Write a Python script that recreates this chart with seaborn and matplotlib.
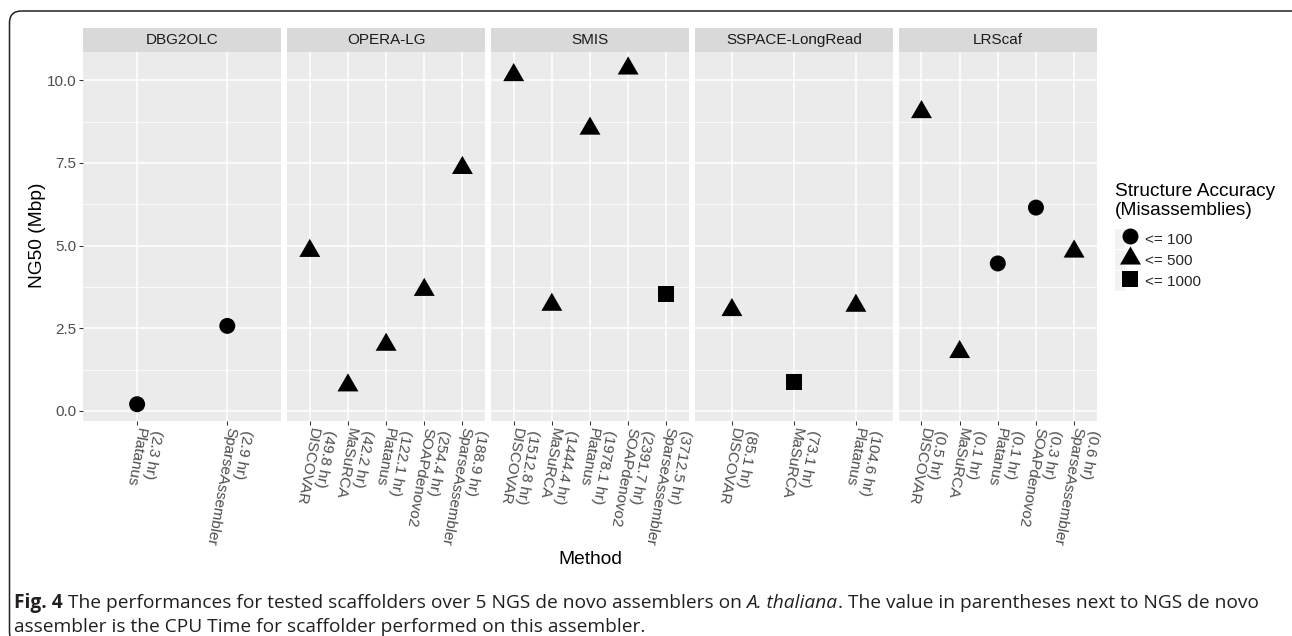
import matplotlib
matplotlib.use("Agg")
import matplotlib.pyplot as plt
import matplotlib.transforms as mtransforms
from matplotlib.patches import Rectangle, FancyBboxPatch, Patch
from matplotlib.lines import Line2D
from matplotlib.legend_handler import HandlerTuple
from matplotlib.ticker import MultipleLocator, FormatStrFormatter
import seaborn as sns
import pandas as pd

# data
scaffolders = ["DBG2OLC", "OPERA-LG", "SMIS", "SSPACE-LongRead", "LRScaf"]

scaffolder = (["DBG2OLC"] * 2 + ["OPERA-LG"] * 5 + ["SMIS"] * 5
              + ["SSPACE-LongRead"] * 3 + ["LRScaf"] * 5)
method = ["Platanus", "SparseAssembler",
          "DISCOVAR", "MaSuRCA", "Platanus", "SOAPdenovo2", "SparseAssembler",
          "DISCOVAR", "MaSuRCA", "Platanus", "SOAPdenovo2", "SparseAssembler",
          "DISCOVAR", "MaSuRCA", "Platanus",
          "DISCOVAR", "MaSuRCA", "Platanus", "SOAPdenovo2", "SparseAssembler"]
cpu_hours = ["2.3", "2.9",
             "49.8", "42.2", "122.1", "254.4", "188.9",
             "1512.8", "1444.4", "1978.1", "2391.7", "3712.5",
             "85.1", "73.1", "104.6",
             "0.5", "0.1", "0.1", "0.3", "0.6"]
ng50 = [0.20, 2.57,
        4.84, 0.77, 2.00, 3.66, 7.35,
        10.16, 3.21, 8.54, 10.36, 3.55,
        3.05, 0.86, 3.18,
        9.04, 1.78, 4.46, 6.15, 4.82]
accuracy = ["<= 100", "<= 100",
            "<= 500", "<= 500", "<= 500", "<= 500", "<= 500",
            "<= 500", "<= 500", "<= 500", "<= 500", "<= 1000",
            "<= 500", "<= 1000", "<= 500",
            "<= 500", "<= 500", "<= 100", "<= 100", "<= 500"]
accuracy_levels = ["<= 100", "<= 500", "<= 1000"]

# ggplot-like triangle (pch 17), centred on its centroid
TRIANGLE = [(0, 1.555), (1.347, -0.778), (-1.347, -0.778)]
markers = {"<= 100": "o", "<= 500": TRIANGLE, "<= 1000": "s"}
msize = {"<= 100": 11.5, "<= 500": 17.4, "<= 1000": 11.5}

PANEL_BG = "#EBEBEB"
STRIP_BG = "#D9D9D9"
TICK_TXT = "#4D4D4D"
FONT = "Liberation Sans"
TICK_FS = 11
TITLE_FS = 13.8

df = pd.DataFrame({"scaffolder": scaffolder, "method": method, "hours": cpu_hours,
                   "ng50": ng50, "accuracy": accuracy})
df["pos"] = df.groupby("scaffolder").cumcount()
df["label"] = "(" + df["hours"] + " hr)\n" + df["method"]

sns.set_theme(style="white")
plt.rcParams["font.family"] = [FONT, "DejaVu Sans"]

W, H = 1292, 636
fig = plt.figure(figsize=(W / 100, H / 100), dpi=100)

left, right, top, bottom = 83, 1097, 51.7, 421
gap = 5.5
pw = (right - left - gap * 4) / 5

span = max(ng50) - min(ng50)
ylo, yhi = min(ng50) - 0.05 * span, max(ng50) + 0.05 * span

for k, name in enumerate(scaffolders):
    x0 = left + k * (pw + gap)
    ax = fig.add_axes([x0 / W, 1 - bottom / H, pw / W, (bottom - top) / H])
    sub = df[df["scaffolder"] == name]
    n = len(sub)

    ax.set_facecolor(PANEL_BG)
    for s in ax.spines.values():
        s.set_visible(False)
    ax.set_axisbelow(True)

    sns.scatterplot(data=sub, x="pos", y="ng50", style="accuracy", size="accuracy",
                    style_order=accuracy_levels, size_order=accuracy_levels,
                    markers=markers, sizes={k2: v ** 2 for k2, v in msize.items()},
                    color="black", linewidth=0, legend=False, ax=ax, zorder=3)

    ax.set_xlim(-0.6, n - 0.4)
    ax.set_ylim(ylo, yhi)
    ax.set_xticks(range(n))
    ax.set_xticklabels([])
    ax.yaxis.set_major_locator(MultipleLocator(2.5))
    ax.yaxis.set_minor_locator(MultipleLocator(1.25))
    ax.yaxis.set_major_formatter(FormatStrFormatter("%.1f"))
    ax.grid(which="major", color="white", linewidth=1.1)
    ax.grid(which="minor", axis="y", color="white", linewidth=0.55)
    ax.tick_params(which="major", length=2.75, width=0.75, color="#333333",
                   labelsize=TICK_FS, labelcolor=TICK_TXT, pad=2, bottom=True, left=(k == 0),
                   labelleft=(k == 0))
    ax.tick_params(which="minor", length=0)
    ax.set_xlabel("")
    ax.set_ylabel("")

    # rotated two-line tick labels
    trans = mtransforms.blended_transform_factory(ax.transData, ax.transAxes) + \
        mtransforms.ScaledTranslation(-3 / 100, -5 / 100, fig.dpi_scale_trans)
    for i, lab in zip(sub["pos"], sub["label"]):
        ax.text(i, 0, lab, transform=trans, rotation=-100, rotation_mode="anchor",
                ha="left", va="bottom", fontsize=TICK_FS, color=TICK_TXT,
                linespacing=1.2, clip_on=False)

    # facet strip
    sh = 23.4 / (bottom - top)
    ax.add_patch(Rectangle((0, 1), 1, sh, transform=ax.transAxes, facecolor=STRIP_BG,
                           edgecolor="none", clip_on=False))
    ax.text(0.5, 1 + sh / 2, name, transform=ax.transAxes, ha="center", va="center",
            fontsize=TICK_FS, color="#1A1A1A")

fig.text(38 / W, 1 - 235 / H, "NG50 (Mbp)", rotation=90, ha="center", va="center",
         fontsize=TITLE_FS, color="black")
fig.text(590 / W, 1 - 560 / H, "Method", ha="center", va="center",
         fontsize=TITLE_FS, color="black")

# legend
fig.text(1115 / W, 1 - 201 / H, "Structure Accuracy\n(Misassemblies)", ha="left",
         va="center", fontsize=TITLE_FS, linespacing=1.15, color="black")
handles = []
for lev in accuracy_levels:
    handles.append((Patch(facecolor="#F2F2F2", edgecolor="none"),
                    Line2D([], [], marker=markers[lev], markersize=msize[lev],
                           linestyle="", color="black", markeredgewidth=0)))
fig.legend(handles, accuracy_levels, loc="upper left",
           bbox_to_anchor=(1115 / W, 1 - 229 / H),
           frameon=False, fontsize=TICK_FS,
           handler_map={tuple: HandlerTuple(ndivide=None)},
           handlelength=1.35, handleheight=1.6, handletextpad=0.6,
           labelspacing=0.1, borderpad=0, borderaxespad=0)

# figure caption and frame
fig.add_artist(FancyBboxPatch((9.5, -8), 1300, 633, boxstyle="round,pad=0,rounding_size=12",
                              transform=mtransforms.IdentityTransform(),
                              facecolor="none", edgecolor="#222222", linewidth=1.1))

cap_font = ["Open Sans", "DejaVu Sans"]
cap_size = 13.75
renderer = fig.canvas.get_renderer()
line1 = [("Fig. 4", "bold", "normal"),
         (" The performances for tested scaffolders over 5 NGS de novo assemblers on ", "normal", "normal"),
         ("A. thaliana", "normal", "italic"),
         (". The value in parentheses next to NGS de novo", "normal", "normal")]
x = 14
for txt, wt, st in line1:
    t = fig.text(x / W, 1 - 608 / H, txt, ha="left", va="baseline", fontsize=cap_size,
                 fontweight=wt, fontstyle=st, family=cap_font, color="#231F20")
    x = t.get_window_extent(renderer).x1
fig.text(14 / W, 1 - 632 / H, "assembler is the CPU Time for scaffolder performed on this assembler.",
         ha="left", va="baseline", fontsize=cap_size, family=cap_font, color="#231F20")

fig.savefig("out.png", dpi=100, facecolor="white")
